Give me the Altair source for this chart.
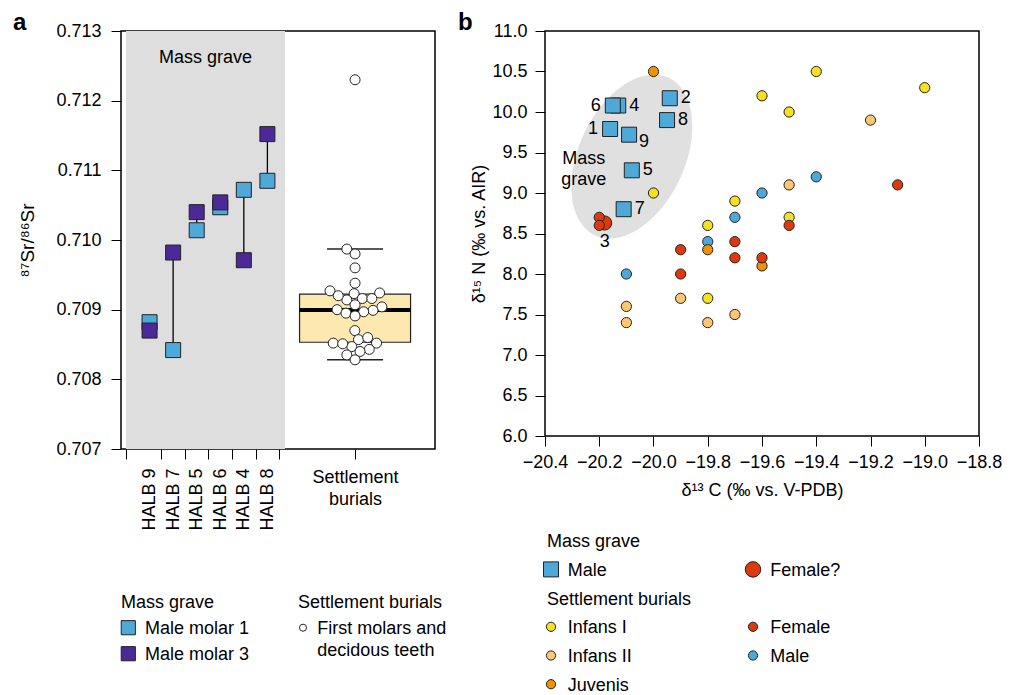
import json
import math
import numpy as np
import pandas as pd
import altair as alt

FONT = "Liberation Sans"

# ---------------- panel a data ----------------
halb_ids = ["HALB 9", "HALB 7", "HALB 5", "HALB 6", "HALB 4", "HALB 8"]
halb_slot = [1, 2, 3, 4, 5, 6]
molar1_sr = [0.70882, 0.70842, 0.71014, 0.71047, 0.71072, 0.71085]
molar3_sr = [0.70870, 0.70982, 0.71040, 0.71054, 0.70971, 0.71152]
mass_grave_span = [0, 6.75]
settlement_slot = 9.72
settlement_label = ["Settlement", "burials"]
settlement_sr = [
    0.71230, 0.70987, 0.70980, 0.70960, 0.70938, 0.70927, 0.70923, 0.70924,
    0.70916, 0.70914, 0.70916, 0.70920, 0.70907, 0.70904, 0.70899, 0.70897,
    0.70900, 0.70895, 0.70891, 0.70870, 0.70857, 0.70860, 0.70852, 0.70852,
    0.70847, 0.70843, 0.70840, 0.70835, 0.70851, 0.70828,
]

# ---------------- panel b data ----------------
mg_id = ["1", "2", "4", "5", "6", "7", "8", "9"]
mg_d13c = [-20.16, -19.94, -20.13, -20.08, -20.15, -20.11, -19.95, -20.09]
mg_d15n = [9.79, 10.17, 10.08, 9.28, 10.08, 8.80, 9.90, 9.72]
mg_label_side = ["left", "right", "right", "right", "left", "right", "right", "rightlow"]
fem_id = ["3"]
fem_d13c = [-20.18]
fem_d15n = [8.63]

settle_group = [
    "Juvenis", "Infans I", "Infans I", "Infans I", "Infans I", "Infans II",
    "Male", "Infans II", "Female", "Infans I", "Male", "Infans I", "Male",
    "Infans I", "Female", "Infans I", "Female", "Female", "Male", "Female",
    "Juvenis", "Female", "Juvenis", "Female", "Female", "Male", "Female",
    "Infans II", "Infans I", "Infans II", "Infans II", "Infans II", "Infans II",
]
settle_d13c = [
    -20.0, -19.4, -19.0, -19.6, -19.5, -19.2,
    -19.4, -19.5, -19.1, -20.0, -19.6, -19.7, -19.7,
    -19.5, -19.5, -19.8, -20.2, -20.2, -19.8, -19.7,
    -19.8, -19.9, -19.6, -19.7, -19.6, -20.1, -19.9,
    -19.9, -19.8, -20.1, -20.1, -19.8, -19.7,
]
settle_d15n = [
    10.5, 10.5, 10.3, 10.2, 10.0, 9.9,
    9.2, 9.1, 9.1, 9.0, 9.0, 8.9, 8.7,
    8.7, 8.6, 8.6, 8.7, 8.6, 8.4, 8.4,
    8.3, 8.3, 8.1, 8.2, 8.2, 8.0, 8.0,
    7.7, 7.7, 7.6, 7.4, 7.4, 7.5,
]
group_order = ["Infans I", "Infans II", "Juvenis", "Female", "Male"]

# mass-grave ellipse annotation (centre in data units, axes in px, tilt in deg)
ell_center = (-20.08, 9.45)
ell_axes_px = (87, 53)
ell_tilt = 25

# ---------------- styles ----------------
BLUE = "#4fa9d8"
PURPLE = "#4b2a98"
GRAY = "#dedede"
ELL = "#e0e0e0"
BOXFILL = "#fde9b0"
YELLOW = "#f6e11f"
LORANGE = "#fdc672"
ORANGE = "#f39200"
RED = "#e0380e"
EDGE = "#222222"
group_colors = [YELLOW, LORANGE, ORANGE, RED, BLUE]

WA, HA = 314, 418
WB, HB = 434, 405
XA_DOM = [0, 12.9]
YA_DOM = [0.707, 0.713]
XB_DOM = [-20.4, -18.8]
YB_DOM = [6.0, 11.0]

xA = alt.Scale(domain=XA_DOM, nice=False, zero=False)
yA = alt.Scale(domain=YA_DOM, nice=False, zero=False)
xB = alt.Scale(domain=XB_DOM, nice=False, zero=False)
yB = alt.Scale(domain=YB_DOM, nice=False, zero=False)

yAxisA = alt.Axis(values=[0.707, 0.708, 0.709, 0.710, 0.711, 0.712, 0.713],
                  format=".3f", tickSize=10, labelPadding=10,
                  title="⁸⁷Sr/⁸⁶Sr", titleFontSize=19, titlePadding=18)

# ---------------- panel a ----------------
kxA = WA / (XA_DOM[1] - XA_DOM[0])
kyA = HA / (YA_DOM[1] - YA_DOM[0])
diam = 9.8
order = sorted(range(len(settlement_sr)), key=lambda i: settlement_sr[i])
placed = []
offs = [0.0] * len(settlement_sr)
for i in order:
    yp = settlement_sr[i] * kyA
    cands = [0.0]
    for (px, py) in placed:
        dy = abs(py - yp)
        if dy < diam:
            d = math.sqrt(diam ** 2 - dy ** 2)
            cands += [px + d, px - d]
    cands.sort(key=lambda c: (abs(c), c))
    for c in cands:
        if all((c - px) ** 2 + (yp - py) ** 2 >= diam ** 2 - 1e-6 for px, py in placed):
            offs[i] = c
            placed.append((c, yp))
            break
swarm_df = pd.DataFrame({
    "x": [settlement_slot + o / kxA for o in offs],
    "sr": settlement_sr,
})

arr = np.array(settlement_sr)
q1, med, q3 = np.percentile(arr, [25, 50, 75])
iqr = q3 - q1
wlo = arr[arr >= q1 - 1.5 * iqr].min()
whi = arr[arr <= q3 + 1.5 * iqr].max()
box_df = pd.DataFrame({"x": [settlement_slot], "q1": [q1], "q3": [q3], "med": [med]})
cap_df = pd.DataFrame({"x": [settlement_slot] * 2, "y": [wlo, whi]})

region_df = pd.DataFrame({"x0": [mass_grave_span[0]], "x1": [mass_grave_span[1]],
                          "y0": [YA_DOM[0]], "y1": [YA_DOM[1]]})
halb_df = pd.DataFrame({"slot": halb_slot, "id": halb_ids, "m1": molar1_sr, "m3": molar3_sr})
halb_df["lo"] = halb_df[["m1", "m3"]].min(axis=1)
halb_df["hi"] = halb_df[["m1", "m3"]].max(axis=1)

xtick_vals = [mass_grave_span[0]] + [s + 0.5 for s in halb_slot] + [settlement_slot]

bg = alt.Chart(region_df).mark_rect(fill=GRAY).encode(
    x=alt.X("x0:Q", scale=xA, axis=alt.Axis(orient="bottom", values=xtick_vals, labels=False,
                                             tickSize=10, title=None)),
    x2="x1:Q",
    y=alt.Y("y0:Q", scale=yA, axis=yAxisA),
    y2="y1:Q",
)

mg_text_a = alt.Chart(pd.DataFrame({"x": [sum(mass_grave_span) / 2], "y": [0.712534], "t": ["Mass grave"]})).mark_text(
    align="center", baseline="alphabetic", fontSize=18).encode(
    x=alt.X("x:Q", scale=xA, axis=None), y=alt.Y("y:Q", scale=yA, axis=yAxisA), text="t:N")

conn = alt.Chart(halb_df).mark_rule(color="black", strokeWidth=1.3).encode(
    x=alt.X("slot:Q", scale=xA, axis=None), y=alt.Y("lo:Q", scale=yA, axis=yAxisA), y2="hi:Q")

sq1 = alt.Chart(halb_df).mark_square(size=225, fill=BLUE, stroke=EDGE, strokeWidth=1, opacity=1).encode(
    x=alt.X("slot:Q", scale=xA, axis=alt.Axis(orient="bottom", values=halb_slot,
                                              labelExpr=json.dumps(halb_ids) + "[datum.value - 1]",
                                              labelAngle=270, ticks=False, tickSize=0, labelPadding=19,
                                              title=None)),
    y=alt.Y("m1:Q", scale=yA, axis=yAxisA))
sq3 = alt.Chart(halb_df).mark_square(size=225, fill=PURPLE, stroke=EDGE, strokeWidth=1, opacity=1).encode(
    x=alt.X("slot:Q", scale=xA, axis=None), y=alt.Y("m3:Q", scale=yA, axis=yAxisA))

box = alt.Chart(box_df).mark_bar(size=111, fill=BOXFILL, stroke=EDGE, strokeWidth=1.2).encode(
    x=alt.X("x:Q", scale=xA, axis=alt.Axis(orient="bottom", values=[settlement_slot],
                                           labelExpr=json.dumps(settlement_label), labelAngle=0,
                                           ticks=False, tickSize=0, labelPadding=19,
                                           labelLineHeight=22, title=None)),
    y=alt.Y("q1:Q", scale=yA, axis=yAxisA), y2="q3:Q")
median = alt.Chart(box_df).mark_tick(orient="horizontal", size=111, thickness=4, color="black", opacity=1).encode(
    x=alt.X("x:Q", scale=xA, axis=None), y=alt.Y("med:Q", scale=yA, axis=yAxisA))
caps = alt.Chart(cap_df).mark_tick(orient="horizontal", size=56, thickness=1.5, color=EDGE, opacity=1).encode(
    x=alt.X("x:Q", scale=xA, axis=None), y=alt.Y("y:Q", scale=yA, axis=yAxisA))
swarm = alt.Chart(swarm_df).mark_point(shape="circle", filled=True, fill="white", size=100,
                                       stroke=EDGE, strokeWidth=1, opacity=1).encode(
    x=alt.X("x:Q", scale=xA, axis=None), y=alt.Y("sr:Q", scale=yA, axis=yAxisA))

panel_a = alt.layer(bg, mg_text_a, conn, box, median, caps, swarm, sq1, sq3).resolve_axis(
    x="independent").properties(
    width=WA, height=HA,
    view=alt.ViewBackground(stroke="black", strokeWidth=1.5),
    title=alt.TitleParams(text="a", anchor="start", frame="group", dx=-108, dy=9, fontSize=24,
                          fontWeight="bold", offset=-4),
)

# ---------------- panel b ----------------
kxB = WB / (XB_DOM[1] - XB_DOM[0])
kyB = HB / (YB_DOM[1] - YB_DOM[0])
a_px, b_px = ell_axes_px
th = math.radians(ell_tilt)
s, c = math.sin(th), math.cos(th)
Wh = math.sqrt(a_px ** 2 * s ** 2 + b_px ** 2 * c ** 2)
A = c ** 2 / a_px ** 2 + s ** 2 / b_px ** 2
ex, elo, ehi = [], [], []
for X in np.linspace(-Wh, Wh, 181):
    B = 2 * X * s * c * (1 / a_px ** 2 - 1 / b_px ** 2)
    C = X ** 2 * (s ** 2 / a_px ** 2 + c ** 2 / b_px ** 2) - 1
    disc = max(B * B - 4 * A * C, 0.0)
    y1 = (-B + math.sqrt(disc)) / (2 * A)
    y2 = (-B - math.sqrt(disc)) / (2 * A)
    ex.append(ell_center[0] + X / kxB)
    elo.append(ell_center[1] + min(y1, y2) / kyB)
    ehi.append(ell_center[1] + max(y1, y2) / kyB)
ell_df = pd.DataFrame({"x": ex, "lo": elo, "hi": ehi})

xticks_b = [round(XB_DOM[0] + 0.2 * i, 1) for i in range(9)]
yticks_b = [round(6.0 + 0.5 * i, 1) for i in range(11)]
xAxisB = alt.Axis(values=xticks_b, format=".1f", tickSize=10, labelPadding=7,
                  title="δ¹³ C (‰ vs. V-PDB)", titlePadding=10)
yAxisB = alt.Axis(values=yticks_b, format=".1f", tickSize=10, labelPadding=8,
                  title="δ¹⁵ N (‰ vs. AIR)", titlePadding=3)


def XB(f):
    return alt.X(f, scale=xB, axis=xAxisB)


def YB(f):
    return alt.Y(f, scale=yB, axis=yAxisB)


ell = alt.Chart(ell_df).mark_area(color=ELL, orient="vertical", opacity=1).encode(
    x=XB("x:Q"), y=YB("lo:Q"), y2="hi:Q")

mg_text_b = alt.Chart(pd.DataFrame({"x": [-20.257], "y": [9.356], "t": ["Mass\ngrave"]})).mark_text(
    align="center", baseline="alphabetic", fontSize=18, lineBreak="\n", lineHeight=21).encode(
    x=XB("x:Q"), y=YB("y:Q"), text="t:N")

fem_df = pd.DataFrame({"x": fem_d13c, "y": fem_d15n, "id": fem_id})
fem = alt.Chart(fem_df).mark_point(shape="circle", filled=True, fill=RED, size=200, stroke=EDGE,
                                   strokeWidth=1, opacity=1).encode(x=XB("x:Q"), y=YB("y:Q"))
fem_lab = alt.Chart(fem_df).mark_text(align="center", baseline="middle", dy=19, fontSize=18).encode(
    x=XB("x:Q"), y=YB("y:Q"), text="id:N")

settle_df = pd.DataFrame({"x": settle_d13c, "y": settle_d15n, "g": settle_group})
settle = alt.Chart(settle_df).mark_point(shape="circle", filled=True, size=105, stroke=EDGE,
                                         strokeWidth=1, opacity=1).encode(
    x=XB("x:Q"), y=YB("y:Q"),
    fill=alt.Fill("g:N", scale=alt.Scale(domain=group_order, range=group_colors), legend=None))

mg_df = pd.DataFrame({"x": mg_d13c, "y": mg_d15n, "id": mg_id, "side": mg_label_side})
mg_sq = alt.Chart(mg_df).mark_square(size=225, fill=BLUE, stroke=EDGE, strokeWidth=1, opacity=1).encode(
    x=XB("x:Q"), y=YB("y:Q"))

label_layers = []
for side, kw in [("left", dict(align="right", dx=-12, dy=0)),
                 ("right", dict(align="left", dx=11, dy=0)),
                 ("rightlow", dict(align="left", dx=10, dy=7))]:
    label_layers.append(
        alt.Chart(mg_df).transform_filter(alt.datum.side == side).mark_text(
            baseline="middle", fontSize=18, **kw).encode(x=XB("x:Q"), y=YB("y:Q"), text="id:N"))

panel_b = alt.layer(ell, mg_text_b, fem, settle, mg_sq, fem_lab, *label_layers).properties(
    width=WB, height=HB,
    view=alt.ViewBackground(stroke="black", strokeWidth=1.5),
    title=alt.TitleParams(text="b", anchor="start", frame="group", dx=-87, dy=9, fontSize=24,
                          fontWeight="bold", offset=-4),
)

# ---------------- legends ----------------
legA_label = ["Mass grave", "Male molar 1", "Male molar 3", "Settlement burials",
              "First molars and\ndecidous teeth"]
legA_kind = ["title", "m1", "m3", "title", "tooth"]
legA_col = [0, 0, 0, 1, 1]
legA_row = [0, 1, 2, 0, 1]

legB_label = ["Mass grave", "Male", "Female?", "Settlement burials", "Infans I", "Infans II",
              "Juvenis", "Female", "Male"]
legB_kind = ["title", "mgmale", "mgfemale", "title", "Infans I", "Infans II", "Juvenis",
             "Female", "Male"]
legB_col = [0, 0, 1, 0, 0, 0, 0, 1, 1]
legB_row = [0, 1, 1, 2, 3, 4, 5, 3, 4]

sym_style = {
    "m1": dict(shape="square", fill=BLUE, size=200),
    "m3": dict(shape="square", fill=PURPLE, size=200),
    "tooth": dict(shape="circle", fill="white", size=50),
    "mgmale": dict(shape="square", fill=BLUE, size=225),
    "mgfemale": dict(shape="circle", fill=RED, size=240),
}
for g, col in zip(group_order, group_colors):
    sym_style[g] = dict(shape="circle", fill=col, size=85)


def make_legend(labels, kinds, cols, rows, colstep, title_dx, sym_dx, txt_dx, yrange, nrow, width, height):
    xs = alt.Scale(domain=[0, 1], range=[0, colstep])
    ys = alt.Scale(domain=[0, nrow], range=list(yrange))
    layers = []
    for lab, kind, col, row in zip(labels, kinds, cols, rows):
        if kind == "title":
            df = pd.DataFrame({"x": [col], "y": [row], "t": [lab]})
            layers.append(alt.Chart(df).mark_text(align="left", baseline="alphabetic", dx=title_dx,
                                                  dy=6.5, fontSize=18, lineBreak="\n").encode(
                x=alt.X("x:Q", scale=xs, axis=None), y=alt.Y("y:Q", scale=ys, axis=None), text="t:N"))
        else:
            st = sym_style[kind]
            sdx = sym_dx[col] if kind != "tooth" else sym_dx[col] - 2
            df = pd.DataFrame({"x": [col], "sx": [col + sdx / colstep], "y": [row], "t": [lab]})
            layers.append(alt.Chart(df).mark_point(shape=st["shape"], filled=True, fill=st["fill"],
                                                   size=st["size"], stroke=EDGE, strokeWidth=1,
                                                   opacity=1).encode(
                x=alt.X("sx:Q", scale=xs, axis=None), y=alt.Y("y:Q", scale=ys, axis=None)))
            layers.append(alt.Chart(df).mark_text(align="left", baseline="alphabetic", dx=txt_dx[col],
                                                  dy=6.5, fontSize=18, lineBreak="\n",
                                                  lineHeight=22).encode(
                x=alt.X("x:Q", scale=xs, axis=None), y=alt.Y("y:Q", scale=ys, axis=None), text="t:N"))
    return alt.layer(*layers).properties(width=width, height=height,
                                         view=alt.ViewBackground(stroke="transparent"))


legend_a = make_legend(legA_label, legA_kind, legA_col, legA_row, 177, 0, [7.3, 7], [24, 19.3],
                       (71.7, 123.7), 2, WA, 160)
legend_b = make_legend(legB_label, legB_kind, legB_col, legB_row, 202, 2, [6, 6], [22.7, 23.3],
                       (10.7, 154.2), 5, WB, 160)

chart = alt.concat(panel_a, panel_b, legend_a, legend_b, columns=2,
                   spacing={"row": 81, "column": 110}, bounds="flush", align="each").properties(
    padding={"left": 4, "top": 2, "right": 4, "bottom": 0}
).configure(font=FONT).configure_view(stroke="transparent").configure_axis(
    labelFont=FONT, titleFont=FONT, labelFontSize=18, titleFontSize=18, labelColor="black",
    titleColor="black", tickColor="black", tickWidth=1, grid=False, domain=False,
    titleFontWeight="normal", labelFlush=False, labelOverlap=False, labelBound=False
).configure_text(font=FONT, color="black").configure_title(font=FONT, color="black")

chart.save("out.html", embed_options={"renderer": "svg", "actions": False})
